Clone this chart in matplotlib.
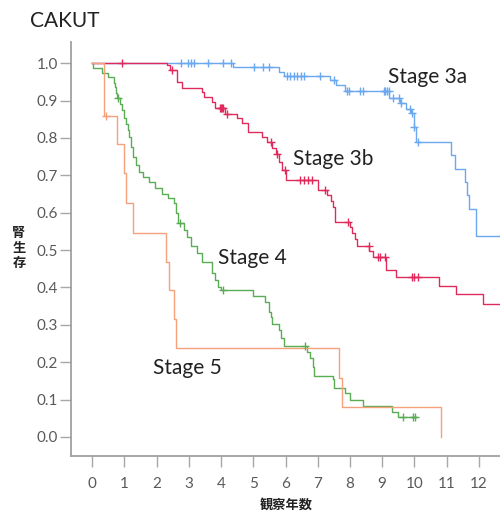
import numpy as np
import matplotlib
matplotlib.use("Agg")
import matplotlib.pyplot as plt

# ---- data ----
s3a_times = [0, 4.37, 5.80, 5.95, 7.38, 7.56, 7.85, 9.22, 9.55, 9.75, 9.90, 9.98, 10.05,
             11.13, 11.26, 11.57, 11.64, 11.71, 11.91]
s3a_surv = [1.0, 0.99, 0.977, 0.966, 0.955, 0.941, 0.926, 0.908, 0.893, 0.878, 0.866, 0.83,
            0.788, 0.754, 0.717, 0.683, 0.647, 0.611, 0.537]
s3a_end = 13.0
s3a_cens = [2.76, 2.98, 3.07, 3.15, 3.58, 4.07, 4.30, 5.02, 5.31, 5.50, 6.05, 6.15, 6.27,
            6.37, 6.47, 6.58, 7.06, 7.50, 7.90, 7.98, 8.32, 8.42, 9.05, 9.10, 9.15, 9.20,
            9.35, 9.52, 9.60, 9.87, 9.92, 10.0, 10.12]

s3b_times = [0, 2.31, 2.40, 2.62, 2.78, 3.42, 3.48, 3.73, 3.80, 4.12, 4.48, 4.64, 4.83,
             5.26, 5.42, 5.58, 5.70, 5.80, 5.88, 6.02, 7.02, 7.30, 7.40, 7.48, 7.54, 8.0,
             8.07, 8.16, 8.23, 8.60, 8.71, 9.12, 9.43, 10.78, 11.30, 12.12]
s3b_surv = [1.0, 0.995, 0.981, 0.950, 0.934, 0.923, 0.910, 0.897, 0.879, 0.863, 0.852,
            0.839, 0.815, 0.803, 0.788, 0.772, 0.756, 0.736, 0.714, 0.687, 0.662, 0.647,
            0.632, 0.616, 0.574, 0.562, 0.547, 0.529, 0.511, 0.497, 0.481, 0.447, 0.429,
            0.405, 0.382, 0.355]
s3b_end = 13.0
s3b_cens = [0.91, 2.49, 3.97, 4.0, 4.03, 4.06, 4.17, 5.54, 5.73, 5.98, 6.45, 6.57, 6.71,
            6.81, 7.23, 7.93, 8.59, 8.88, 8.93, 9.08, 9.92, 10.0, 10.1]

s4_times = [0, 0.03, 0.29, 0.50, 0.66, 0.70, 0.74, 0.77, 0.86, 0.93, 1.00, 1.05, 1.10,
            1.15, 1.20, 1.27, 1.35, 1.45, 1.58, 1.75, 1.95, 2.15, 2.36, 2.54, 2.60, 2.65,
            2.85, 2.95, 3.07, 3.24, 3.40, 3.71, 3.81, 3.91, 4.00, 5.00, 5.36, 5.50, 5.55,
            5.59, 5.81, 5.85, 5.95, 6.66, 6.76, 6.84, 6.88, 7.48, 7.50, 7.85, 8.00, 8.42,
            9.30, 9.50]
s4_surv = [1.0, 0.987, 0.975, 0.962, 0.948, 0.935, 0.921, 0.906, 0.892, 0.876, 0.852,
           0.836, 0.821, 0.803, 0.776, 0.750, 0.727, 0.709, 0.696, 0.681, 0.665, 0.650,
           0.638, 0.625, 0.598, 0.573, 0.553, 0.536, 0.511, 0.491, 0.469, 0.438, 0.420,
           0.400, 0.393, 0.378, 0.362, 0.335, 0.322, 0.302, 0.286, 0.264, 0.244, 0.228,
           0.210, 0.188, 0.163, 0.154, 0.130, 0.118, 0.099, 0.083, 0.068, 0.053]
s4_end = 10.05
s4_cens = [0.80, 2.72, 4.07, 6.62, 9.65, 9.97, 10.03]

s5_times = [0, 0.37, 0.76, 0.99, 1.04, 1.27, 2.28, 2.38, 2.55, 2.59, 7.67, 7.74, 10.82]
s5_surv = [1.0, 0.859, 0.783, 0.705, 0.625, 0.547, 0.469, 0.393, 0.315, 0.237, 0.157,
           0.079, 0.0]
s5_end = 10.82
s5_cens = [0.42]

x_ticks = list(range(0, 13))
y_ticks = [0.0, 0.1, 0.2, 0.3, 0.4, 0.5, 0.6, 0.7, 0.8, 0.9, 1.0]

series = [
    ("Stage 3a", s3a_times, s3a_surv, s3a_end, s3a_cens, "#6aa8f0", (9.18, 0.963)),
    ("Stage 3b", s3b_times, s3b_surv, s3b_end, s3b_cens, "#e02a5c", (6.22, 0.743)),
    ("Stage 4", s4_times, s4_surv, s4_end, s4_cens, "#5aad55", (3.91, 0.479)),
    ("Stage 5", s5_times, s5_surv, s5_end, s5_cens, "#f5a27c", (1.88, 0.184)),
]

plt.rcParams['font.family'] = ['Lato', 'Noto Sans CJK JP', 'DejaVu Sans']

fig = plt.figure(figsize=(5.0, 5.15), dpi=100)
ax = fig.add_axes([0.142, 0.1146, 0.858, 0.8034])

for name, t, s, end, cens, col, lab in series:
    tt = list(t) + [end]
    ss = list(s) + [s[-1]]
    ax.step(tt, ss, where='post', color=col, lw=1.0, zorder=3)
    t_arr = np.array(t)
    s_arr = np.array(s)
    cy = [s_arr[np.searchsorted(t_arr, c, side='right') - 1] for c in cens]
    ax.plot(cens, cy, linestyle='none', marker='+', color=col, markersize=5.5,
            markeredgewidth=1.0, zorder=4)
    ax.text(lab[0], lab[1], name, fontsize=15, color='#222222', va='center',
            ha='left', family='Lato')

ax.set_xlim(-0.661, 12.66)
ax.set_ylim(-0.0508, 1.056)
ax.set_xticks(x_ticks)
ax.set_xticklabels([str(v) for v in x_ticks])
ax.set_yticks(y_ticks)
ax.set_yticklabels([f"{v:.1f}" for v in y_ticks])

for sp in ['top', 'right']:
    ax.spines[sp].set_visible(False)
for sp in ['left', 'bottom']:
    ax.spines[sp].set_color('#a0a0a0')
    ax.spines[sp].set_linewidth(1.3)

ax.tick_params(axis='both', colors='#a8a8a8', labelcolor='#5a5a5a', labelsize=11,
               length=8, width=1)
ax.tick_params(axis='y', pad=1.5)
ax.tick_params(axis='x', pad=7)

fig.text(30 / 500, 1 - 27 / 515, "CAKUT", fontsize=15, color='#222222',
         va='baseline', ha='left', family='Lato')
fig.text(19 / 500, 1 - 248 / 515, "腎\n生\n存", fontsize=9.5, fontweight='bold',
         color='#222222', va='center', ha='center', family='Noto Sans CJK JP',
         linespacing=1.05)
fig.text(286 / 500, 1 - 505 / 515, "観察年数", fontsize=9.5, fontweight='bold',
         color='#222222', va='center', ha='center', family='Noto Sans CJK JP')

fig.savefig("out.png", dpi=100)
